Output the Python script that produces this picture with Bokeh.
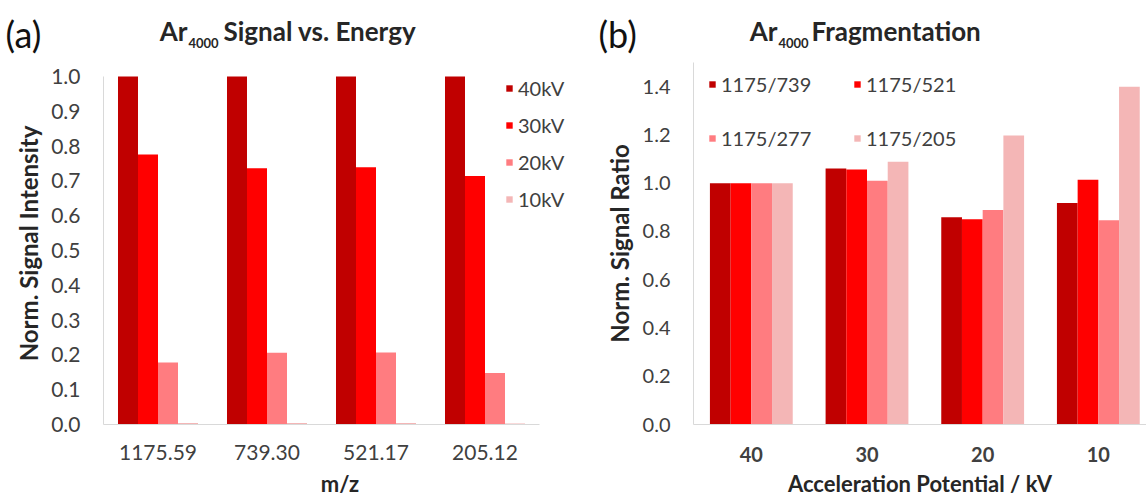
from bokeh.plotting import figure
from bokeh.models import Range1d, FixedTicker, Label, NumeralTickFormatter, Legend, LegendItem
from bokeh.layouts import row, column
from bokeh.embed import file_html
from bokeh.resources import INLINE

# ---------------- data ----------------
# Panel (a): Ar4000 signal vs energy
mz_labels = ["1175.59", "739.30", "521.17", "205.12"]
energy_series = ["40kV", "30kV", "20kV", "10kV"]
sig_40kv = [1.0, 1.0, 1.0, 1.0]
sig_30kv = [0.776, 0.736, 0.739, 0.714]
sig_20kv = [0.178, 0.206, 0.207, 0.148]
sig_10kv = [0.004, 0.004, 0.004, 0.003]
a_yticks = [0.0, 0.1, 0.2, 0.3, 0.4, 0.5, 0.6, 0.7, 0.8, 0.9, 1.0]

# Panel (b): Ar4000 fragmentation
potential_labels = ["40", "30", "20", "10"]
ratio_series = ["1175/739", "1175/521", "1175/277", "1175/205"]
r_739 = [1.0, 1.061, 0.859, 0.918]
r_521 = [1.0, 1.057, 0.850, 1.014]
r_277 = [1.0, 1.010, 0.889, 0.846]
r_205 = [1.0, 1.089, 1.198, 1.399]
b_yticks = [0.0, 0.2, 0.4, 0.6, 0.8, 1.0, 1.2, 1.4]

colors = ["#C00000", "#FF0000", "#FF7C80", "#F4B6B6"]
FONT = "Lato"
TICK_COLOR = "#404040"
LABEL_COLOR = "#262626"


def style_axes(p, xlabels, ylabel, xlabel, xbold, tick_size, xt_standoff, xl_standoff, yl_standoff):
    p.outline_line_color = None
    p.xgrid.visible = False
    p.ygrid.visible = False
    for ax in (p.xaxis[0], p.yaxis[0]):
        ax.axis_line_color = "#D9D9D9"
        ax.axis_line_width = 1
        ax.major_tick_line_color = None
        ax.minor_tick_line_color = None
        ax.major_tick_in = 0
        ax.major_tick_out = 0
        ax.major_label_text_font = FONT
        ax.major_label_text_color = TICK_COLOR
        ax.major_label_text_font_size = tick_size
        ax.axis_label_text_font = FONT
        ax.axis_label_text_font_style = "bold"
        ax.axis_label_text_color = LABEL_COLOR
    xa = p.xaxis[0]
    xa.ticker = FixedTicker(ticks=[i + 0.5 for i in range(len(xlabels))])
    xa.major_label_overrides = {i + 0.5: lab for i, lab in enumerate(xlabels)}
    xa.major_label_text_font_style = "bold" if xbold else "normal"
    xa.major_label_standoff = xt_standoff
    xa.axis_label = xlabel
    xa.axis_label_text_font_size = "22px"
    xa.axis_label_standoff = xl_standoff
    xa.bounds = (0, len(xlabels))
    ya = p.yaxis[0]
    ya.major_label_standoff = 23
    ya.formatter = NumeralTickFormatter(format="0.0")
    ya.axis_label = ylabel
    ya.axis_label_text_font_size = "24px"
    ya.axis_label_standoff = yl_standoff


def add_bars(p, series_vals, w):
    n = len(series_vals)
    rends = []
    for j, vals in enumerate(series_vals):
        xs = [i + 0.5 + (j - (n - 1) / 2) * w for i in range(len(vals))]
        rends.append(p.vbar(x=xs, top=vals, width=w, fill_color=colors[j], line_color=None))
    return rends


def make_legend(rends, names):
    lg = Legend(items=[LegendItem(label=nm, renderers=[r]) for nm, r in zip(names, rends)])
    lg.padding = 0
    lg.margin = 0
    lg.glyph_width = 8
    lg.glyph_height = 8
    lg.label_standoff = 5
    lg.label_height = 24
    lg.label_text_font = FONT
    lg.label_text_font_size = "20px"
    lg.label_text_color = TICK_COLOR
    lg.border_line_alpha = 0
    lg.background_fill_alpha = 0
    return lg


# ---------------- header (panel letters and titles) ----------------
HDR_H = 62
hdr = figure(width=1146, height=HDR_H, output_backend="svg", toolbar_location=None, title=None,
             x_range=Range1d(0, 1146), y_range=Range1d(HDR_H, 0),
             x_axis_location=None, y_axis_location=None, min_border=0)
hdr.outline_line_color = None
hdr.grid.visible = False


def hlabel(x, y, text, size, style="normal", align="left", color=LABEL_COLOR):
    hdr.add_layout(Label(x=x, y=y, text=text, text_font=FONT, text_font_size=size,
                         text_font_style=style, text_color=color, text_align=align,
                         text_baseline="alphabetic"))


hlabel(5, 33, "(a)", "36px", color="#111111")
hlabel(187, 30, "Ar", "26px", "bold", "right")
hlabel(188, 42, "4000", "13px", "bold")
hlabel(223, 30, "Signal vs. Energy", "26px", "bold")

hlabel(598, 33, "(b)", "36px", color="#111111")
hlabel(777, 30, "Ar", "26px", "bold", "right")
hlabel(778, 42, "4000", "13px", "bold")
hlabel(811, 30, "Fragmentation", "26px", "bold")

# ---------------- shared frame geometry (frames are aligned in the row) ----------------
FIG_H = 441
BOT = 79          # frame bottom at page y = 62 + 441 - 79 = 424
FRAME_H = FIG_H - BOT

# ---------------- panel (a) ----------------
pa = figure(width=580, height=FIG_H, output_backend="svg", toolbar_location=None, title=None,
            x_range=Range1d(0, 473 / 109), y_range=Range1d(0, FRAME_H / 348),
            min_border_left=103, min_border_right=4, min_border_top=0, min_border_bottom=BOT)
ra = add_bars(pa, [sig_40kv, sig_30kv, sig_20kv, sig_10kv], 0.1835)
style_axes(pa, mz_labels, "Norm. Signal Intensity", "m/z", False, "21px", 20, 7, 5)
pa.yaxis[0].ticker = FixedTicker(ticks=a_yticks)
pa.yaxis[0].bounds = (0, 1.0)
lga = make_legend(ra, energy_series)
lga.orientation = "vertical"
lga.spacing = 13
lga.location = (402, 213)
pa.add_layout(lga, "center")

# ---------------- panel (b) ----------------
pb = figure(width=566, height=FIG_H, output_backend="svg", toolbar_location=None, title=None,
            x_range=Range1d(0, 453 / 115.67), y_range=Range1d(0, 1.5),
            min_border_left=113, min_border_right=0, min_border_top=0, min_border_bottom=BOT)
rb = add_bars(pb, [r_739, r_521, r_277, r_205], 0.179)
style_axes(pb, potential_labels, "Norm. Signal Ratio", "Acceleration Potential / kV", True, "20px", 22, 5, 6)
pb.yaxis[0].ticker = FixedTicker(ticks=b_yticks)
lgb = make_legend(rb, ratio_series)
lgb.orientation = "horizontal"
lgb.ncols = 2
lgb.spacing = 30
lgb.label_width = 102
lgb.location = (15, 274)
pb.add_layout(lgb, "center")

layout = column(hdr, row(pa, pb))
open("out.html", "w").write(file_html(layout, INLINE))
